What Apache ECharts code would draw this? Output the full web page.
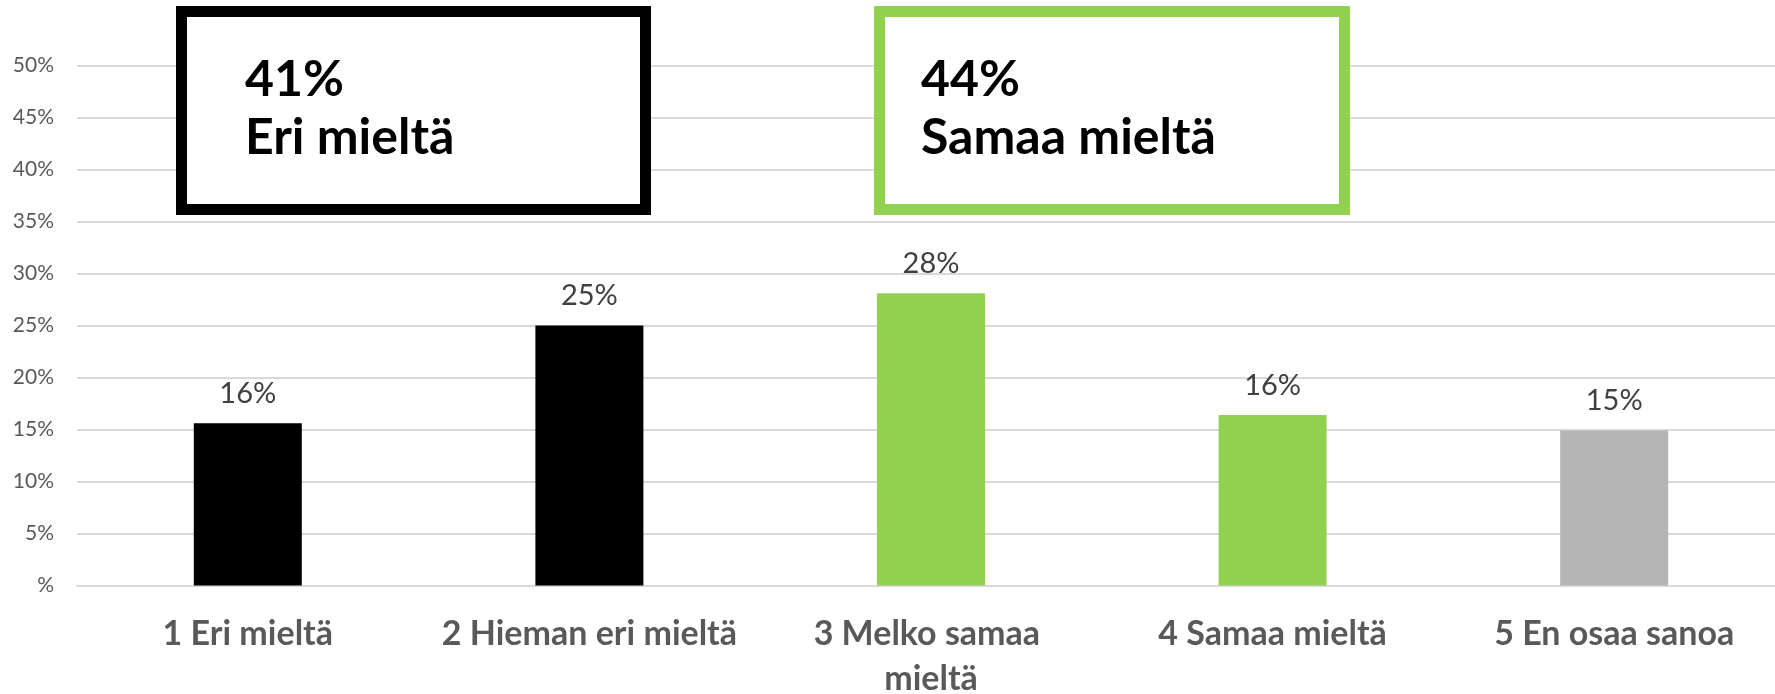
<!DOCTYPE html>
<html>
<head>
<meta charset="utf-8">
<script src="https://cdn.jsdelivr.net/npm/echarts@6/dist/echarts.min.js"></script>
<style>
html,body{margin:0;padding:0;background:#fff;}
#chart{width:1775px;height:694px;}
</style>
</head>
<body>
<div id="chart"></div>
<script>
// ---- data ----
const categories = ['1 Eri mieltä', '2 Hieman eri mieltä', '3 Melko samaa mieltä', '4 Samaa mieltä', '5 En osaa sanoa'];
const values = [15.6, 25.0, 28.1, 16.4, 14.9];
const valueLabels = ['16%', '25%', '28%', '16%', '15%'];
const barColors = ['#000000', '#000000', '#92D050', '#92D050', '#B4B4B4'];
const yTickLabels = ['%', '5%', '10%', '15%', '20%', '25%', '30%', '35%', '40%', '45%', '50%'];
const groupPercents = ['41%', '44%'];
const groupNames = ['Eri mieltä', 'Samaa mieltä'];
const groupColors = ['#000000', '#92D050'];

const chart = echarts.init(document.getElementById('chart'), null, {renderer: 'canvas'});
const FONT = 'Lato';

const boxes = [
  {x: 181.5, y: 11.5, w: 464, h: 198, tx: 245},
  {x: 879.5, y: 11.5, w: 465, h: 198, tx: 921}
];
const graphics = [];
boxes.forEach((b, i) => {
  graphics.push({
    type: 'rect', z: 10,
    shape: {x: b.x, y: b.y, width: b.w, height: b.h},
    style: {fill: '#ffffff', stroke: groupColors[i], lineWidth: 11}
  });
  graphics.push({
    type: 'text', z: 11, x: b.tx, y: 79.5,
    style: {text: groupPercents[i], fill: '#000', font: 'bold 50px ' + FONT, verticalAlign: 'middle', align: 'left'}
  });
  graphics.push({
    type: 'text', z: 11, x: b.tx, y: 137.5,
    style: {text: groupNames[i], fill: '#000', font: 'bold 50px ' + FONT, verticalAlign: 'middle', align: 'left'}
  });
});

chart.setOption({
  animation: false,
  backgroundColor: '#ffffff',
  grid: {left: 77, width: 1708, top: 65.7, bottom: 108.5, containLabel: false, outerBoundsMode: 'none'},
  xAxis: {
    type: 'category',
    data: categories,
    axisLine: {show: true, lineStyle: {color: '#d9d9d9', width: 2}},
    axisTick: {show: false},
    axisLabel: {
      interval: 0, margin: 26, color: '#595959', fontFamily: FONT, fontWeight: 'bold', fontSize: 34,
      lineHeight: 45, width: 318, overflow: 'break'
    }
  },
  yAxis: {
    type: 'value', min: 0, max: 50, interval: 5,
    axisLine: {show: false}, axisTick: {show: false},
    splitLine: {lineStyle: {color: '#d9d9d9', width: 2}},
    axisLabel: {
      margin: 23, color: '#595959', fontFamily: FONT, fontSize: 21,
      formatter: (v) => yTickLabels[Math.round(v / 5)]
    }
  },
  series: [{
    type: 'bar',
    barWidth: 108,
    data: values.map((v, i) => ({value: v, itemStyle: {color: barColors[i]}})),
    label: {
      show: true, position: 'top', distance: 15,
      color: '#404040', fontFamily: FONT, fontSize: 29,
      formatter: (p) => valueLabels[p.dataIndex]
    }
  }],
  graphic: graphics
});
</script>
</body>
</html>
